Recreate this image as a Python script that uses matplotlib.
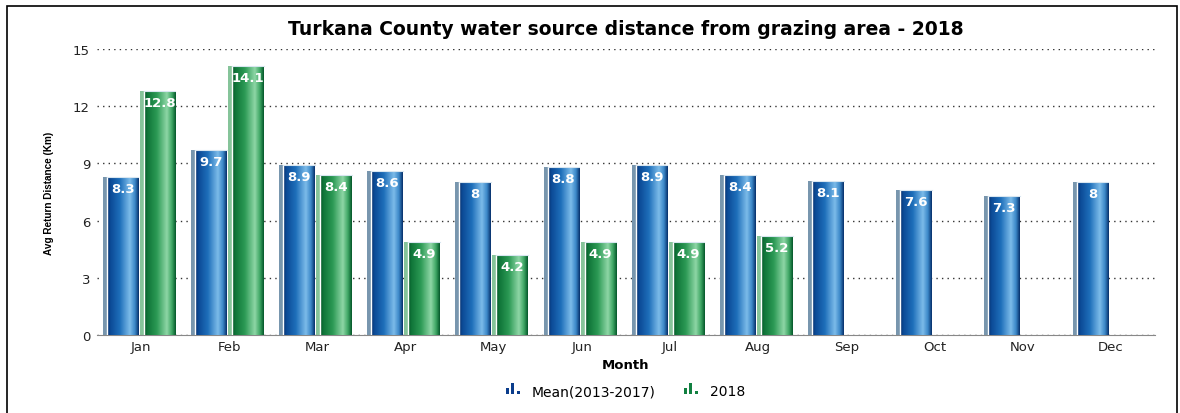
import matplotlib
matplotlib.use("Agg")
import matplotlib.pyplot as plt
import numpy as np
from matplotlib.colors import LinearSegmentedColormap
from matplotlib.patches import Rectangle
from matplotlib.legend_handler import HandlerBase

months = ["Jan", "Feb", "Mar", "Apr", "May", "Jun", "Jul", "Aug", "Sep", "Oct", "Nov", "Dec"]
mean_2013_2017 = [8.3, 9.7, 8.9, 8.6, 8.0, 8.8, 8.9, 8.4, 8.1, 7.6, 7.3, 8.0]
val_2018 = [12.8, 14.1, 8.4, 4.9, 4.2, 4.9, 4.9, 5.2]
labels_mean = ["8.3", "9.7", "8.9", "8.6", "8", "8.8", "8.9", "8.4", "8.1", "7.6", "7.3", "8"]
labels_2018 = ["12.8", "14.1", "8.4", "4.9", "4.2", "4.9", "4.9", "5.2"]

plt.rcParams['font.family'] = ['DejaVu Sans']

blue_cmap = LinearSegmentedColormap.from_list(
    "b", [(0, "#082f6a"), (0.1, "#0b4a96"), (0.4, "#1e6fba"), (0.72, "#7cbbe9"), (0.88, "#3c89c9"), (1, "#08326e")])
green_cmap = LinearSegmentedColormap.from_list(
    "g", [(0, "#06552a"), (0.1, "#0f7538"), (0.4, "#2c9a55"), (0.72, "#8ed6a6"), (0.88, "#3fa765"), (1, "#065a2c")])

fig = plt.figure(figsize=(11.8, 4.14), dpi=100)
ax = fig.add_axes([0.0822, 0.1884, 0.8966, 0.6908])

x = np.arange(len(months))
w = 0.36
off = 0.21
grad = np.linspace(0, 1, 64).reshape(1, -1)


def draw_bars(xs, vals, cmap, shadow):
    # offset sliver on the left, then gradient-filled bar on top
    ax.bar(xs - 0.045, vals, width=w, color=shadow, zorder=2)
    bars = ax.bar(xs, vals, width=w, color='none', zorder=3)
    for b in bars:
        x0, y0, bw, bh = b.get_x(), b.get_y(), b.get_width(), b.get_height()
        im = ax.imshow(grad, cmap=cmap, aspect='auto', zorder=3,
                       extent=[x0, x0 + bw, y0, y0 + bh])
        im.set_clip_path(b)
        ax.plot([x0, x0], [y0, y0 + bh], color='white', lw=1.0, zorder=4)
        ax.plot([x0, x0 + bw], [bh, bh], color='#d8e6f0', lw=0.8, zorder=4)
    return bars


bm = draw_bars(x - off, mean_2013_2017, blue_cmap, '#7896ae')
bg = draw_bars(x[:len(val_2018)] + off, val_2018, green_cmap, '#86c49a')

for xi, v, t in zip(x - off, mean_2013_2017, labels_mean):
    ax.text(xi, v - 0.6, t, ha='center', va='center', color='white', fontsize=9.5, fontweight='bold', zorder=5)
for xi, v, t in zip(x[:len(val_2018)] + off, val_2018, labels_2018):
    ax.text(xi, v - 0.6, t, ha='center', va='center', color='white', fontsize=9.5, fontweight='bold', zorder=5)

ax.set_xlim(-0.5, len(months) - 0.5)
ax.set_ylim(0, 15)
ax.set_yticks([0, 3, 6, 9, 12, 15])
ax.set_xticks(x)
ax.set_xticklabels(months)
ax.tick_params(axis='both', length=0, labelsize=9.5, colors='#222222')
ax.tick_params(axis='y', pad=5)
ax.grid(axis='y', linestyle=(0, (1, 3)), color='#333333', lw=1.0, zorder=0)
for s in ['left', 'right', 'top']:
    ax.spines[s].set_visible(False)
ax.spines['bottom'].set_color('#888888')
ax.set_axisbelow(True)

ax.set_title("Turkana County water source distance from grazing area - 2018",
             fontsize=13.5, fontweight='bold', pad=11)
ax.set_xlabel("Month", fontsize=9.5, fontweight='bold', labelpad=4)
ax.set_ylabel("Avg Return Distance (Km)", fontsize=7.2,
              family=['Liberation Sans', 'DejaVu Sans'], fontweight='bold', labelpad=14)


class BarIcon(HandlerBase):
    def __init__(self, color):
        super().__init__()
        self.color = color

    def create_artists(self, legend, orig, xd, yd, width, height, fontsize, trans):
        hs = [0.55, 1.0, 0.3]
        out = []
        for i, h in enumerate(hs):
            out.append(Rectangle((xd + i * width * 0.36, yd), width * 0.22, height * h,
                                 facecolor=self.color, edgecolor='none', transform=trans))
        return out


h1 = Rectangle((0, 0), 1, 1)
h2 = Rectangle((0, 0), 1, 1)
fig.legend([h1, h2], ["Mean(2013-2017)", "2018"], loc='center', bbox_to_anchor=(0.53, 0.053),
           ncol=2, frameon=False, fontsize=10, handlelength=1.1, handleheight=0.9, columnspacing=2.0,
           handletextpad=0.8, handler_map={h1: BarIcon('#0b3d8c'), h2: BarIcon('#118040')})

fig.patches.append(Rectangle((7 / 1180, -0.05), 1170 / 1180, 1 - 7 / 414 + 0.05, transform=fig.transFigure,
                             fill=False, edgecolor='black', lw=1.2))

fig.savefig("out.png", dpi=100)
